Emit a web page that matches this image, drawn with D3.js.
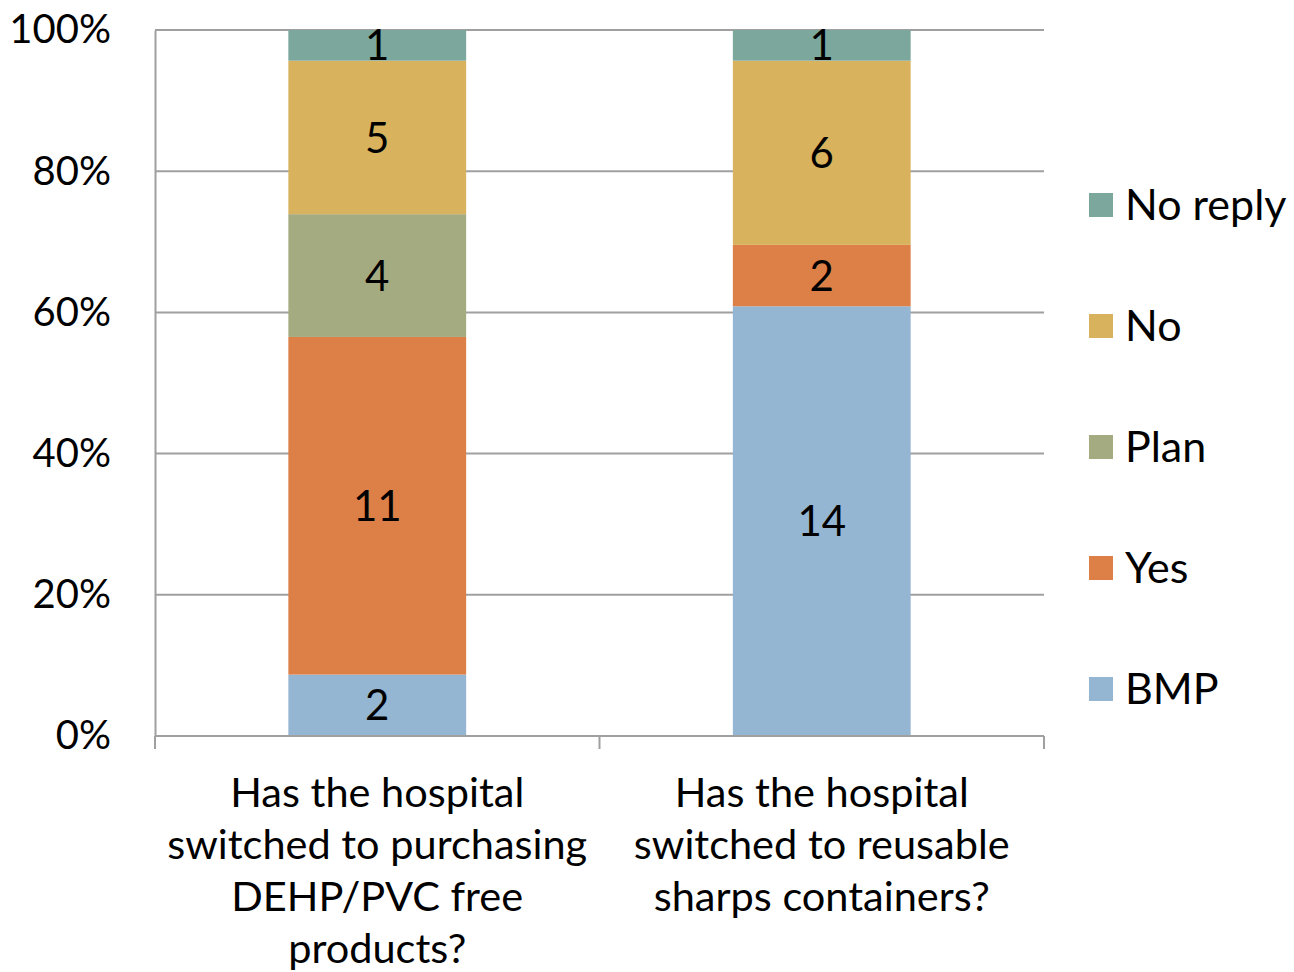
<!DOCTYPE html>
<html><head><meta charset="utf-8">
<script src="https://cdn.jsdelivr.net/npm/d3@7"></script>
<style>body{margin:0;background:#fff}svg{display:block}text{font-family:Lato,"DejaVu Sans",sans-serif;fill:#000}</style>
</head><body>
<svg id="c" width="1294" height="972"></svg>
<script>
const categories = [
  ["Has the hospital","switched to purchasing","DEHP/PVC free","products?"],
  ["Has the hospital","switched to reusable","sharps containers?"]
];
const seriesNames = ["BMP","Yes","Plan","No","No reply"];
const seriesColors = ["#94B6D2","#DD8047","#A5AB81","#D8B25C","#7BA79D"];
const BMP = [2,14];
const Yes = [11,2];
const Plan = [4,0];
const No = [5,6];
const NoReply = [1,1];
const yTicks = [0,0.2,0.4,0.6,0.8,1.0];

const seriesVals = [BMP,Yes,Plan,No,NoReply];
const svg = d3.select("#c");
const L=155,R=1044,T=30,B=736;
const x = d3.scaleBand().domain(d3.range(categories.length)).range([L,R]).padding(0);
const y = d3.scaleLinear().domain([0,1]).range([B,T]);
const grey="#A0A0A0";

// gridlines
svg.append("g").selectAll("line").data(yTicks.slice(1)).join("line")
  .attr("x1",L).attr("x2",R).attr("y1",d=>y(d)).attr("y2",d=>y(d))
  .attr("stroke",grey).attr("stroke-width",2);

// y axis
const ya = svg.append("g").attr("transform",`translate(${L},0)`)
  .call(d3.axisLeft(y).tickValues(yTicks).tickFormat(d3.format(".0%")).tickSize(0).tickPadding(44));
ya.select(".domain").attr("stroke",grey).attr("stroke-width",2);
ya.selectAll("text").attr("font-size",40).attr("font-family","Lato").attr("fill","#000");

// stacked data
const rows = categories.map((c,i)=>{const o={i};seriesNames.forEach((s,k)=>o[s]=seriesVals[k][i]);return o;});
const stack = d3.stack().keys(seriesNames).offset(d3.stackOffsetExpand)(rows);
const bw = x.bandwidth()*0.4;
const gs = svg.append("g").selectAll("g").data(stack).join("g").attr("fill",(d,k)=>seriesColors[k]);
gs.selectAll("rect").data(d=>d.filter(p=>p[1]-p[0]>0)).join("rect")
  .attr("x",d=>x(d.data.i)+x.bandwidth()/2-bw/2).attr("width",bw)
  .attr("y",d=>y(d[1])).attr("height",d=>y(d[0])-y(d[1]));
// labels
stack.forEach((s,k)=>{
  svg.append("g").selectAll("text").data(s.filter(p=>p[1]-p[0]>0)).join("text")
    .attr("x",d=>x(d.data.i)+x.bandwidth()/2).attr("y",d=>(y(d[0])+y(d[1]))/2)
    .attr("dy","0.36em").attr("text-anchor","middle").attr("font-size",42)
    .text(d=>d.data[s.key]);
});

// x axis
const xa = svg.append("g").attr("transform",`translate(0,${B})`);
xa.append("line").attr("x1",L).attr("x2",R).attr("stroke",grey).attr("stroke-width",2);
const edges = d3.range(categories.length+1).map(i=>i<categories.length?x(i):R);
xa.selectAll("line.t").data(edges).join("line").attr("class","t")
  .attr("x1",d=>d).attr("x2",d=>d).attr("y1",0).attr("y2",13).attr("stroke",grey).attr("stroke-width",2);
categories.forEach((lines,i)=>{
  const t = xa.append("text").attr("text-anchor","middle").attr("font-size",41.5);
  lines.forEach((ln,j)=>t.append("tspan").attr("x",x(i)+x.bandwidth()/2).attr("y",71+j*52).text(ln));
});

// legend
const legOrder = d3.range(seriesNames.length).reverse();
const lg = svg.append("g").selectAll("g").data(legOrder).join("g")
  .attr("transform",(k,j)=>`translate(1089,${205+j*121})`);
lg.append("rect").attr("x",0).attr("y",-12).attr("width",24).attr("height",24).attr("fill",k=>seriesColors[k]);
lg.append("text").attr("x",36).attr("dy","0.36em").attr("font-size",43).text(k=>seriesNames[k]);
</script>
</body></html>
